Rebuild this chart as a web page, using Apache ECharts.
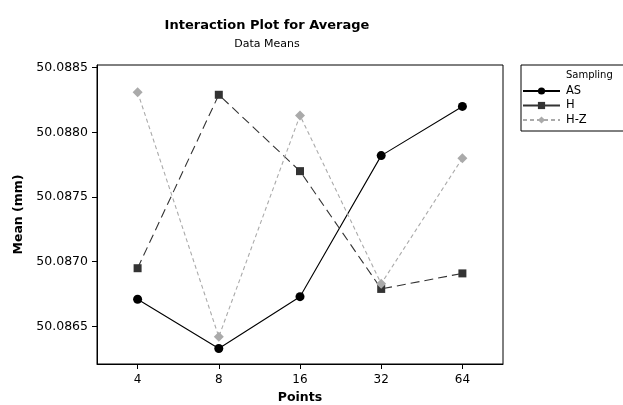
<!DOCTYPE html>
<html>
<head>
<meta charset="utf-8">
<script src="https://cdn.jsdelivr.net/npm/echarts@6/dist/echarts.min.js"></script>
<style>
  html, body { margin: 0; padding: 0; background: #fff; }
  #chart { width: 623px; height: 405px; }
</style>
</head>
<body>
<div id="chart"></div>
<script>
// Number of points per sampling strategy
const points = ['4', '8', '16', '32', '64'];

// Mean diameter (mm) for each sampling strategy
const asMeans = [50.08671, 50.08633, 50.08673, 50.08782, 50.08820];
const hMeans  = [50.08695, 50.08829, 50.08770, 50.08679, 50.08691];
const hzMeans = [50.08831, 50.08642, 50.08813, 50.08683, 50.08780];

// Y tick values
const yTicks = [50.0865, 50.0870, 50.0875, 50.0880, 50.0885];

const FONT = 'DejaVu Sans';

const chart = echarts.init(document.getElementById('chart'), null, { renderer: 'canvas' });

chart.setOption({
  animation: false,
  backgroundColor: '#ffffff',
  title: [
    {
      text: 'Interaction Plot for Average',
      left: 262, top: 14, textAlign: 'center',
      textStyle: { fontFamily: FONT, fontSize: 13, fontWeight: 'bold', color: '#000' }
    },
    {
      text: 'Data Means',
      left: 262, top: 34, textAlign: 'center',
      textStyle: { fontFamily: FONT, fontSize: 11, fontWeight: 'normal', color: '#000' }
    }
  ],
  grid: {
    left: 97, top: 65, right: 120, bottom: 41,
    show: true, borderColor: '#000', borderWidth: 1, backgroundColor: '#fff',
    containLabel: false,
    outerBoundsMode: 'none'
  },
  xAxis: {
    type: 'category',
    data: points,
    boundaryGap: true,
    name: 'Points',
    nameLocation: 'middle',
    nameGap: 27,
    nameTextStyle: { fontFamily: FONT, fontSize: 12.5, fontWeight: 'bold', color: '#000' },
    axisLine: { show: true, lineStyle: { color: '#000', width: 1 } },
    axisTick: { show: true, alignWithLabel: true, length: 5, inside: false, lineStyle: { color: '#000' } },
    axisLabel: { fontFamily: FONT, fontSize: 12, color: '#000', margin: 10 },
    splitLine: { show: false }
  },
  yAxis: {
    type: 'value',
    min: 50.08621,
    max: 50.08852,
    name: 'Mean (mm)',
    nameLocation: 'middle',
    nameGap: 72,
    nameTextStyle: { fontFamily: FONT, fontSize: 12.5, fontWeight: 'bold', color: '#000' },
    axisLine: { show: true, lineStyle: { color: '#000', width: 1 } },
    axisTick: { show: true, length: 5, inside: false, customValues: yTicks, lineStyle: { color: '#000' } },
    axisLabel: {
      fontFamily: FONT, fontSize: 12.5, color: '#000', margin: 9,
      customValues: yTicks,
      formatter: v => v.toFixed(4)
    },
    splitLine: { show: false }
  },
  legend: {
    orient: 'vertical',
    left: 521, top: 65,
    width: 102,
    data: [
      { name: 'AS', itemStyle: { color: '#000' }, lineStyle: { type: 'solid', color: '#000' } },
      { name: 'H', itemStyle: { color: '#333' }, lineStyle: { type: 'solid', color: '#333' } },
      { name: 'H-Z', itemStyle: { color: '#aaa' }, lineStyle: { type: [4, 3], color: '#aaa' } }
    ],
    itemWidth: 37, itemHeight: 9,
    itemGap: 2.5,
    padding: [20, 40, 5, 1],
    borderColor: '#000', borderWidth: 1,
    textStyle: { fontFamily: FONT, fontSize: 11.5, color: '#000', padding: [0, 0, 0, 1] }
  },
  graphic: [
    {
      type: 'text', left: 566, top: 70,
      style: { text: 'Sampling', fontFamily: FONT, fontSize: 10, fill: '#000' }
    }
  ],
  series: [
    {
      name: 'AS', type: 'line', data: asMeans,
      symbol: 'circle', symbolSize: 9,
      lineStyle: { color: '#000', width: 1.1, type: 'solid' },
      itemStyle: { color: '#000' }
    },
    {
      name: 'H', type: 'line', data: hMeans,
      symbol: 'rect', symbolSize: 8,
      lineStyle: { color: '#333', width: 1.1, type: [9, 5] },
      itemStyle: { color: '#333' }
    },
    {
      name: 'H-Z', type: 'line', data: hzMeans,
      symbol: 'diamond', symbolSize: 10,
      lineStyle: { color: '#aaa', width: 1.1, type: [4, 3] },
      itemStyle: { color: '#aaa' }
    }
  ]
});
</script>
</body>
</html>
